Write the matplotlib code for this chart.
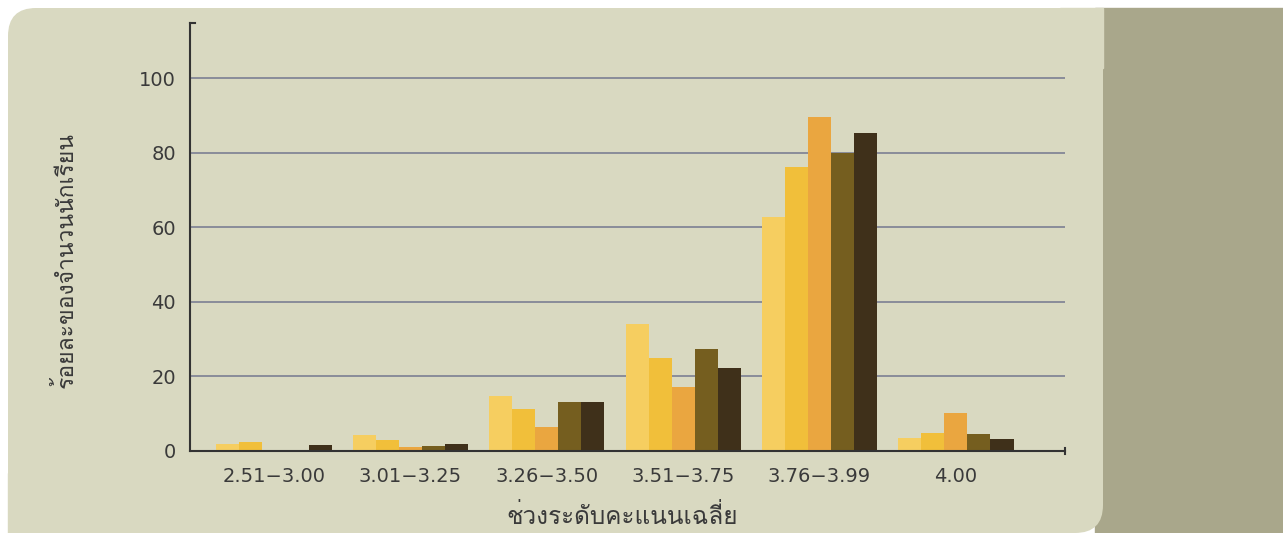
import matplotlib.pyplot as plt
import numpy as np
from matplotlib.patches import FancyBboxPatch, Rectangle
from matplotlib import font_manager

# score ranges and share of students (%) for five cohorts
ranges = ['2.51−3.00', '3.01−3.25', '3.26−3.50', '3.51−3.75', '3.76−3.99', '4.00']
cohort1 = [1.8, 4.2, 14.7, 34.0, 62.7, 3.3]
cohort2 = [2.4, 2.9, 11.2, 25.0, 76.2, 4.7]
cohort3 = [0.0, 1.1, 6.4, 17.2, 89.5, 10.0]
cohort4 = [0.0, 1.3, 13.1, 27.2, 80.0, 4.4]
cohort5 = [1.6, 1.9, 13.1, 22.3, 85.2, 3.1]
series = [cohort1, cohort2, cohort3, cohort4, cohort5]
colors = ['#F6CE60', '#F1BF3A', '#EAA640', '#755E1F', '#3F301A']

y_title = 'ร้อยละของจำนวนนักเรียน'
x_title = 'ช่วงระดับคะแนนเฉลี่ย'

# pick a font that has Thai glyphs if there is one
thai = None
for f in font_manager.fontManager.ttflist:
    n = f.name.lower()
    if 'thai' in n or n in ('loma', 'garuda', 'norasi', 'kinnari', 'sarabun', 'waree', 'umpush', 'laksaman'):
        thai = f.name
        break
thai_family = [thai, 'DejaVu Sans'] if thai else ['DejaVu Sans']

W, H = 1283, 533
panel = '#D9D9C1'
fig = plt.figure(figsize=(W / 100, H / 100), dpi=100, facecolor='white')

# backdrop drawn in pixel units on a full-figure axes
bg = fig.add_axes([0, 0, 1, 1], zorder=-5)
bg.set_xlim(0, W)
bg.set_ylim(H, 0)
bg.axis('off')
bg.add_patch(Rectangle((1095, 8), W - 1095, H - 8, color='#A9A78B'))
bg.add_patch(FancyBboxPatch((8, 8), 1103 - 8, H - 8,
                            boxstyle='round,pad=0,rounding_size=28',
                            facecolor=panel, edgecolor='none'))
# top right and bottom left corners are square
bg.add_patch(Rectangle((1060, 8), 43, 60, color=panel))
bg.add_patch(Rectangle((8, H - 60), 60, 60, color=panel))

ax = fig.add_axes([190 / W, 1 - 450.7 / H, (1065 - 190) / W, (450.7 - 23) / H])
ax.set_facecolor('none')

x = np.arange(len(ranges))
width = 0.169
for i, (vals, c) in enumerate(zip(series, colors)):
    ax.bar(x + (i - 2) * width, vals, width, color=c, zorder=3, linewidth=0)

ax.set_xlim(-0.616, 5.80)
ax.set_ylim(0, 114.8)
ax.set_yticks([0, 20, 40, 60, 80, 100])
ax.set_xticks(x)
ax.set_xticklabels(ranges)
ax.tick_params(axis='both', length=0, labelsize=14, colors='#3A3A3A')
ax.tick_params(axis='y', pad=10)
ax.tick_params(axis='x', pad=12)
ax.yaxis.grid(True, color='#7C8093', linewidth=1.2, zorder=1)
ax.set_axisbelow(True)

for s in ['top', 'right']:
    ax.spines[s].set_visible(False)
for s in ['left', 'bottom']:
    ax.spines[s].set_color('#333333')
    ax.spines[s].set_linewidth(1.5)
    ax.spines[s].set_zorder(4)

# small caps at the axis ends
ax.plot([-0.616, -0.58], [114.8, 114.8], color='#333333', lw=1.5, clip_on=False)
ax.plot([5.80, 5.80], [-0.8, 0.8], color='#333333', lw=1.5, clip_on=False)

fig.text(622 / W, 1 - 516 / H, x_title, ha='center', va='center',
         fontsize=17.5, color='#3A3A3A', family=thai_family)
fig.text(66 / W, 1 - 260 / H, y_title, ha='center', va='center', rotation=90,
         fontsize=16.5, color='#3A3A3A', family=thai_family)

fig.savefig('out.png', dpi=100, facecolor=fig.get_facecolor())
